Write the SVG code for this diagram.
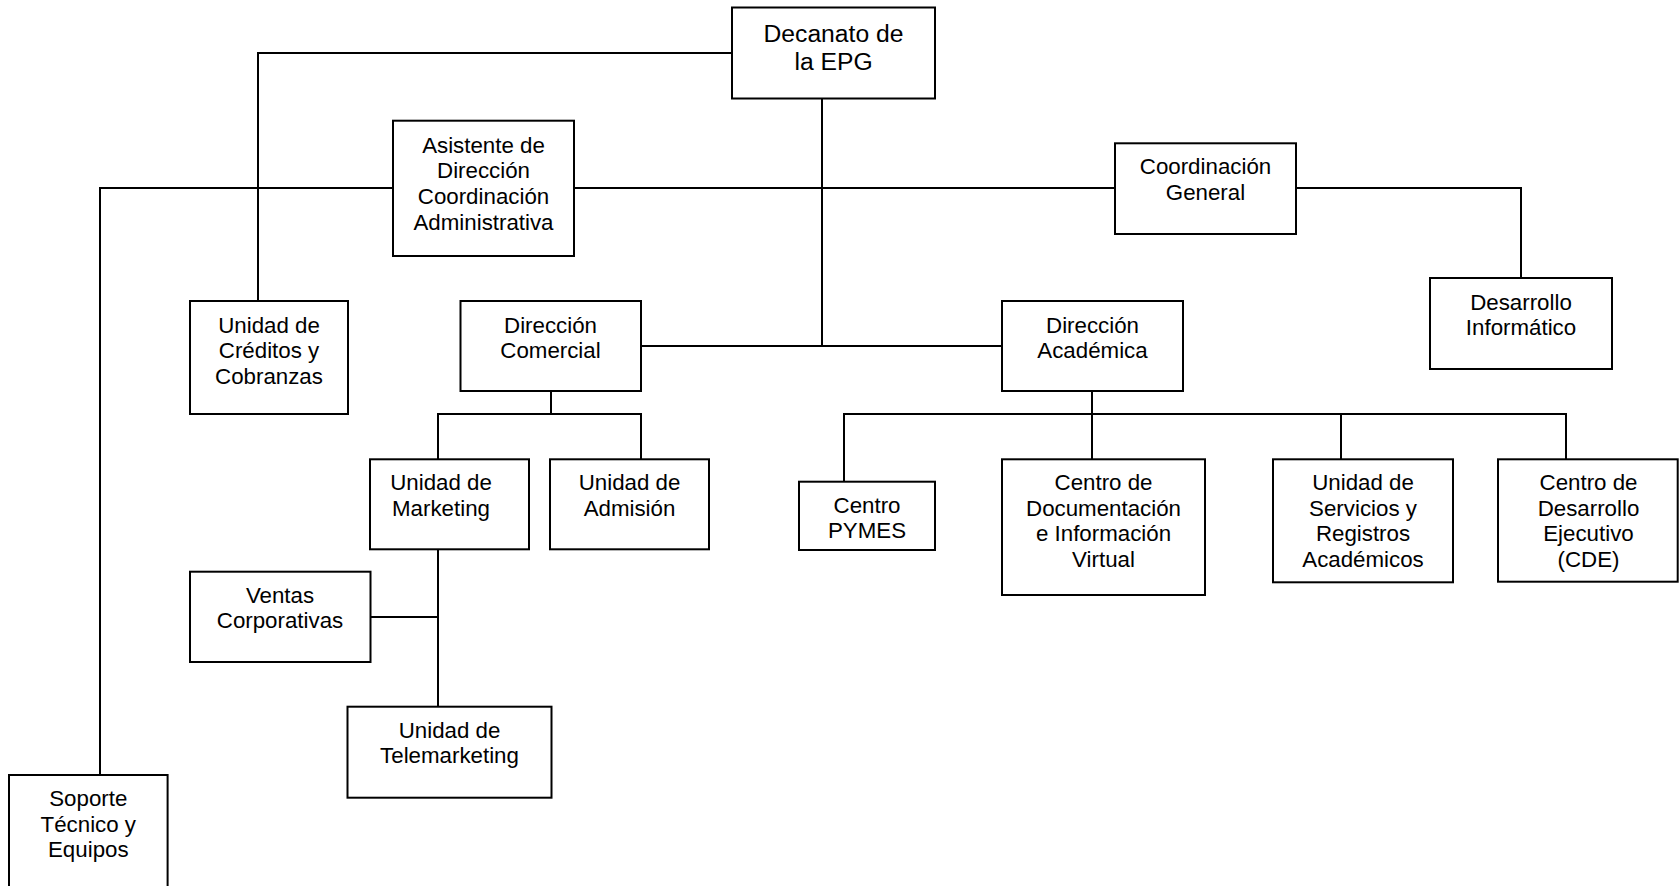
<svg xmlns="http://www.w3.org/2000/svg" width="1680" height="886" viewBox="0 0 1680 886">
<style>
.box{fill:#fff;stroke:#000;stroke-width:2}
.ln{fill:none;stroke:#000;stroke-width:2}
text{font-family:"Liberation Sans",Arial,sans-serif;font-size:22.3px;fill:#000;text-anchor:middle}
.big{font-size:24.7px}
</style>
<rect width="1680" height="886" fill="#fff"/>
<g id="connectors">
<path class="ln" d="M732,53 H258 V301"/>
<path class="ln" d="M100,775 V188 H393"/>
<path class="ln" d="M574,188 H1115"/>
<path class="ln" d="M822,99 V346"/>
<path class="ln" d="M641,346 H1002"/>
<path class="ln" d="M1296,188 H1521 V278"/>
<path class="ln" d="M551,391 V414"/>
<path class="ln" d="M438,459 V414 H641 V459"/>
<path class="ln" d="M438,549 V707"/>
<path class="ln" d="M370,617 H438"/>
<path class="ln" d="M1092,391 V459"/>
<path class="ln" d="M844,482 V414 H1566 V459"/>
<path class="ln" d="M1341,414 V459"/>
</g>
<g id="decanato"><rect class="box" x="732" y="7.5" width="203" height="91"/><text class="big" x="833.5" y="41.7">Decanato de</text><text class="big" x="833.5" y="70">la EPG</text></g>
<g id="asistente"><rect class="box" x="393" y="120.7" width="181" height="135.3"/><text x="483.5" y="152.7">Asistente de</text><text x="483.5" y="178.4">Dirección</text><text x="483.5" y="204.1">Coordinación</text><text x="483.5" y="229.8">Administrativa</text></g>
<g id="coordinacion"><rect class="box" x="1115" y="143.3" width="181" height="90.7"/><text x="1205.5" y="174.2">Coordinación</text><text x="1205.5" y="199.9">General</text></g>
<g id="desarrollo-informatico"><rect class="box" x="1430" y="278" width="182" height="91"/><text x="1521" y="309.7">Desarrollo</text><text x="1521" y="335.4">Informático</text></g>
<g id="creditos"><rect class="box" x="190" y="301" width="158" height="113"/><text x="269" y="332.7">Unidad de</text><text x="269" y="358.4">Créditos y</text><text x="269" y="384.1">Cobranzas</text></g>
<g id="dir-comercial"><rect class="box" x="460.5" y="301" width="180.5" height="90"/><text x="550.5" y="332.7">Dirección</text><text x="550.5" y="358.4">Comercial</text></g>
<g id="dir-academica"><rect class="box" x="1002" y="301" width="181" height="90"/><text x="1092.5" y="332.7">Dirección</text><text x="1092.5" y="358.4">Académica</text></g>
<g id="marketing"><rect class="box" x="370" y="459.3" width="159" height="90"/><text x="441" y="490">Unidad de</text><text x="441" y="515.7">Marketing</text></g>
<g id="admision"><rect class="box" x="550" y="459.3" width="159" height="90"/><text x="629.5" y="490">Unidad de</text><text x="629.5" y="515.7">Admisión</text></g>
<g id="pymes"><rect class="box" x="799" y="481.7" width="136" height="68.3"/><text x="867" y="513.3">Centro</text><text x="867" y="538.3">PYMES</text></g>
<g id="centro-doc"><rect class="box" x="1002" y="459.3" width="203" height="135.7"/><text x="1103.5" y="490">Centro de</text><text x="1103.5" y="515.7">Documentación</text><text x="1103.5" y="541.4">e Información</text><text x="1103.5" y="567.1">Virtual</text></g>
<g id="servicios"><rect class="box" x="1273" y="459.3" width="180" height="123"/><text x="1363" y="490">Unidad de</text><text x="1363" y="515.7">Servicios y</text><text x="1363" y="541.4">Registros</text><text x="1363" y="567.1">Académicos</text></g>
<g id="cde"><rect class="box" x="1498" y="459.3" width="179.7" height="122.4"/><text x="1588.5" y="490">Centro de</text><text x="1588.5" y="515.7">Desarrollo</text><text x="1588.5" y="541.4">Ejecutivo</text><text x="1588.5" y="567.1">(CDE)</text></g>
<g id="ventas"><rect class="box" x="190" y="571.7" width="180.5" height="90.3"/><text x="280" y="602.7">Ventas</text><text x="280" y="628.4">Corporativas</text></g>
<g id="telemarketing"><rect class="box" x="347.5" y="706.7" width="204" height="91"/><text x="449.5" y="737.7">Unidad de</text><text x="449.5" y="763.4">Telemarketing</text></g>
<g id="soporte"><rect class="box" x="9" y="775" width="158.6" height="120"/><text x="88.3" y="806">Soporte</text><text x="88.3" y="831.7">Técnico y</text><text x="88.3" y="857.4">Equipos</text></g>
</svg>
